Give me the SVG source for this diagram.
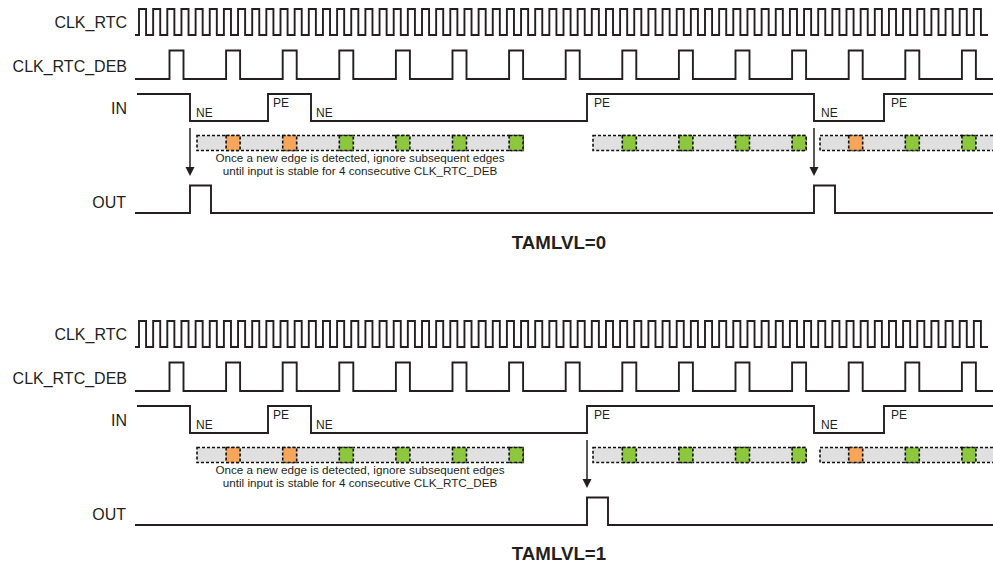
<svg xmlns="http://www.w3.org/2000/svg" width="993" height="565" viewBox="0 0 993 565">
<style>
.bg{fill:#fff}
.wave{fill:none;stroke:#231f20;stroke-width:1.9;stroke-linejoin:miter}
.lbl{font-family:"Liberation Sans",Arial,sans-serif;font-size:16px;fill:#231f20;text-anchor:end}
.edge{font-family:"Liberation Sans",Arial,sans-serif;font-size:12px;fill:#231f20}
.note{font-family:"Liberation Sans",Arial,sans-serif;font-size:11.7px;fill:#231f20;text-anchor:middle}
.title{font-family:"Liberation Sans",Arial,sans-serif;font-size:18.7px;font-weight:bold;fill:#231f20;text-anchor:middle}
.box{fill:#e0e0e0;stroke:#111;stroke-width:1.6;stroke-dasharray:3 2}
.or{fill:#f5a65b;stroke:#111;stroke-width:1.6;stroke-dasharray:3 2}
.gr{fill:#8dc63f;stroke:#111;stroke-width:1.6;stroke-dasharray:3 2}
.arr{stroke:#231f20;stroke-width:1.5;fill:none}
.head{fill:#231f20}
</style>
<defs>
<path id="clk" class="wave" d="M135,35 H139 v-26h7.075v26h7.075 v-26h7.075v26h7.075 v-26h7.075v26h7.075 v-26h7.075v26h7.075 v-26h7.075v26h7.075 v-26h7.075v26h7.075 v-26h7.075v26h7.075 v-26h7.075v26h7.075 v-26h7.075v26h7.075 v-26h7.075v26h7.075 v-26h7.075v26h7.075 v-26h7.075v26h7.075 v-26h7.075v26h7.075 v-26h7.075v26h7.075 v-26h7.075v26h7.075 v-26h7.075v26h7.075 v-26h7.075v26h7.075 v-26h7.075v26h7.075 v-26h7.075v26h7.075 v-26h7.075v26h7.075 v-26h7.075v26h7.075 v-26h7.075v26h7.075 v-26h7.075v26h7.075 v-26h7.075v26h7.075 v-26h7.075v26h7.075 v-26h7.075v26h7.075 v-26h7.075v26h7.075 v-26h7.075v26h7.075 v-26h7.075v26h7.075 v-26h7.075v26h7.075 v-26h7.075v26h7.075 v-26h7.075v26h7.075 v-26h7.075v26h7.075 v-26h7.075v26h7.075 v-26h7.075v26h7.075 v-26h7.075v26h7.075 v-26h7.075v26h7.075 v-26h7.075v26h7.075 v-26h7.075v26h7.075 v-26h7.075v26h7.075 v-26h7.075v26h7.075 v-26h7.075v26h7.075 v-26h7.075v26h7.075 v-26h7.075v26h7.075 v-26h7.075v26h7.075 v-26h7.075v26h7.075 v-26h7.075v26h7.075 v-26h7.075v26h7.075 v-26h7.075v26h7.075 v-26h7.075v26h7.075 v-26h7.075v26h7.075 v-26h7.075v26h7.075 v-26h7.075v26h7.075 v-26h7.075v26h7.075 v-26h7.075v26h7.075 v-26h7.075v26h7.075 v-26h7.075v26h7.075 v-26h7.075v26h7.075 v-26h7.075v26h7.075 v-26h7.075v26h7.075"/>
<path id="deb" class="wave" d="M135,79 H169.5 v-28.5h14v28.5h42.6 v-28.5h14v28.5h42.6 v-28.5h14v28.5h42.6 v-28.5h14v28.5h42.6 v-28.5h14v28.5h42.6 v-28.5h14v28.5h42.6 v-28.5h14v28.5h42.6 v-28.5h14v28.5h42.6 v-28.5h14v28.5h42.6 v-28.5h14v28.5h42.6 v-28.5h14v28.5h42.6 v-28.5h14v28.5h42.6 v-28.5h14v28.5h42.6 v-28.5h14v28.5h42.6 v-28.5h14v28.5h42.6"/>
<path id="in" class="wave" d="M137,94 H190 V121 H268 V94 H311 V121 H587 V94 H814 V121 H884 V94 H995"/>
<g id="boxes">
<rect class="box" x="197" y="135.5" width="326" height="15"/>
<rect class="or" x="226.1" y="135.5" width="14" height="15"/>
<rect class="or" x="282.7" y="135.5" width="14" height="15"/>
<rect class="gr" x="339.3" y="135.5" width="14" height="15"/>
<rect class="gr" x="395.9" y="135.5" width="14" height="15"/>
<rect class="gr" x="452.5" y="135.5" width="14" height="15"/>
<rect class="gr" x="509.1" y="135.5" width="14" height="15"/>
<rect class="box" x="593" y="135.5" width="213.1" height="15"/>
<rect class="gr" x="622.3" y="135.5" width="14" height="15"/>
<rect class="gr" x="678.9" y="135.5" width="14" height="15"/>
<rect class="gr" x="735.5" y="135.5" width="14" height="15"/>
<rect class="gr" x="792.1" y="135.5" width="14" height="15"/>
<rect class="box" x="820" y="135.5" width="185" height="15"/>
<rect class="or" x="848.7" y="135.5" width="14" height="15"/>
<rect class="gr" x="905.3" y="135.5" width="14" height="15"/>
<rect class="gr" x="961.9" y="135.5" width="14" height="15"/>
</g>
</defs>
<rect class="bg" x="0" y="0" width="993" height="565"/>

<g id="panel0">
<g id="clk_rtc_0"><text class="lbl" x="127" y="28">CLK_RTC</text><use href="#clk"/></g>
<g id="clk_rtc_deb_0"><text class="lbl" x="127" y="72">CLK_RTC_DEB</text><use href="#deb"/></g>
<g id="in_0"><text class="lbl" x="127" y="114">IN</text><use href="#in"/>
<text class="edge" x="196" y="117">NE</text><text class="edge" x="273" y="107">PE</text>
<text class="edge" x="316" y="117">NE</text><text class="edge" x="594" y="107">PE</text>
<text class="edge" x="821" y="117">NE</text><text class="edge" x="891" y="107">PE</text></g>
<g id="filter_0"><use href="#boxes"/>
<text class="note" x="360" y="162">Once a new edge is detected, ignore subsequent edges</text>
<text class="note" x="360" y="175">until input is stable for 4 consecutive CLK_RTC_DEB</text></g>
<g id="out_0"><text class="lbl" x="126" y="208">OUT</text>
<path class="wave" d="M135,213 H190 V185.5 H211 V213 H814 V185.5 H835 V213 H995"/></g>
<g id="connectors_0">
<line class="arr" x1="190" y1="128" x2="190" y2="168"/><polygon class="head" points="185.5,167 194.5,167 190,176"/>
<line class="arr" x1="814" y1="128" x2="814" y2="168"/><polygon class="head" points="809.5,167 818.5,167 814,176"/>
</g>
<text id="title0" class="title" x="559" y="249">TAMLVL=0</text>
</g>

<g id="panel1" transform="translate(0,312)">
<g id="clk_rtc_1"><text class="lbl" x="127" y="28">CLK_RTC</text><use href="#clk"/></g>
<g id="clk_rtc_deb_1"><text class="lbl" x="127" y="72">CLK_RTC_DEB</text><use href="#deb"/></g>
<g id="in_1"><text class="lbl" x="127" y="114">IN</text><use href="#in"/>
<text class="edge" x="196" y="117">NE</text><text class="edge" x="273" y="107">PE</text>
<text class="edge" x="316" y="117">NE</text><text class="edge" x="594" y="107">PE</text>
<text class="edge" x="821" y="117">NE</text><text class="edge" x="891" y="107">PE</text></g>
<g id="filter_1"><use href="#boxes"/>
<text class="note" x="360" y="162">Once a new edge is detected, ignore subsequent edges</text>
<text class="note" x="360" y="175">until input is stable for 4 consecutive CLK_RTC_DEB</text></g>
<g id="out_1"><text class="lbl" x="126" y="208">OUT</text>
<path class="wave" d="M135,213 H587 V185.5 H608 V213 H995"/></g>
<g id="connectors_1">
<line class="arr" x1="587" y1="128" x2="587" y2="168"/><polygon class="head" points="582.5,167 591.5,167 587,176"/>
</g>
<text id="title1" class="title" x="559" y="248">TAMLVL=1</text>
</g>
</svg>
